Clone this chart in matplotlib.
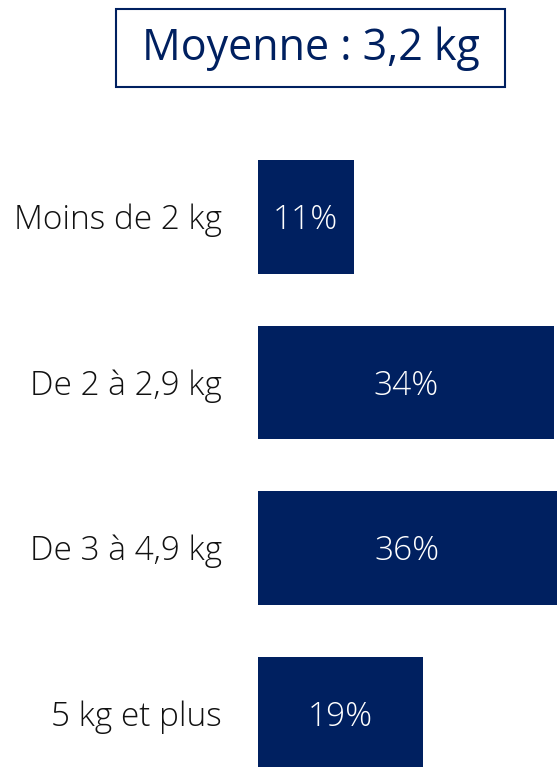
import matplotlib
matplotlib.use("Agg")
import matplotlib.pyplot as plt
from matplotlib.patches import Rectangle

categories = ["Moins de 2 kg", "De 2 à 2,9 kg", "De 3 à 4,9 kg", "5 kg et plus"]
values = [11, 34, 36, 19]
value_labels = ["11%", "34%", "36%", "19%"]
title = "Moyenne : 3,2 kg"

W, H = 557, 767
fig = plt.figure(figsize=(W / 100, H / 100), dpi=100)
plt.rcParams['font.family'] = ['Open Sans', 'DejaVu Sans']
navy = "#002060"

XMAX = (557 - 258) / 8.7
ax = fig.add_axes([258 / W, 0, 1 - 258 / W, 1])
ypos = list(range(len(categories)))
ax.barh(ypos, values, height=0.687, color=navy, edgecolor="none")
ax.set_xlim(0, XMAX)
ax.set_ylim(3 + (767 - 714) / 166, -217 / 166)
ax.axis("off")

for y, v, lab in zip(ypos, values, value_labels):
    xc = min(v, XMAX) / 2
    ax.text(xc, y + 0.02, lab, color="white", ha="center", va="center", fontsize=24,
            fontweight="light")

for y, c in zip(ypos, categories):
    ax.text(-36 / 8.7, y + 0.02, c, color="#111111", ha="right", va="center", fontsize=24,
            fontweight="light", clip_on=False)

fig.patches.append(Rectangle((116 / W, 1 - 87 / H), (505 - 116) / W, (87 - 9) / H,
                             transform=fig.transFigure, fill=False, edgecolor=navy, lw=1.5))
fig.text((116 + 505) / 2 / W, 1 - 49 / H, title, color=navy, ha="center", va="center",
         fontsize=31)

fig.savefig("out.png", dpi=100)
